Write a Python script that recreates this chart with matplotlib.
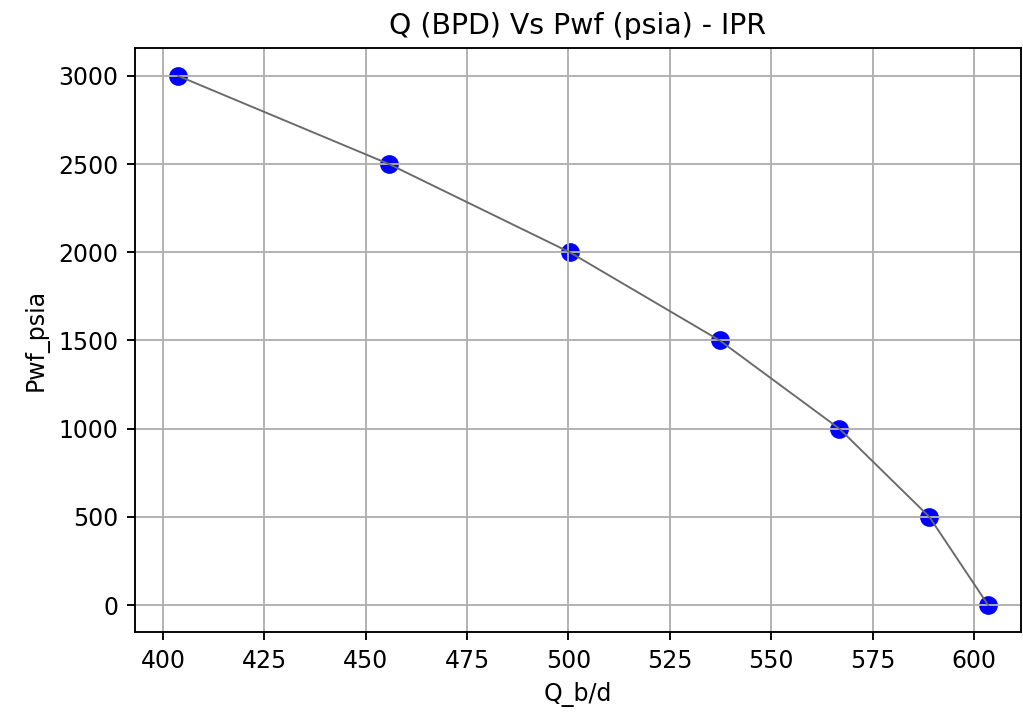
import matplotlib
matplotlib.use("Agg")
import matplotlib.pyplot as plt

# IPR data: caudal (b/d) vs presión de fondo fluyente (psia)
q_bd = [403.7, 455.7, 500.3, 537.3, 566.8, 589.0, 603.5]
pwf_psia = [3000, 2500, 2000, 1500, 1000, 500, 0]

fig = plt.figure(figsize=(1023 / 170, 724 / 170), dpi=170)
ax = fig.add_axes([0.132, 0.127, 0.866, 0.807])

ax.scatter(q_bd, pwf_psia, color='blue', s=48)
ax.plot(q_bd, pwf_psia, color='dimgray', linewidth=0.8)
ax.grid(True)

ax.set_xlim(393.1, 611.6)
ax.set_ylim(-153, 3159)
ax.set_xticks([400, 425, 450, 475, 500, 525, 550, 575, 600])
ax.set_yticks([0, 500, 1000, 1500, 2000, 2500, 3000])

ax.set_xlabel("Q_b/d")
ax.set_ylabel("Pwf_psia")
ax.set_title("Q (BPD) Vs Pwf (psia) - IPR")

fig.savefig("out.png", dpi=170)
